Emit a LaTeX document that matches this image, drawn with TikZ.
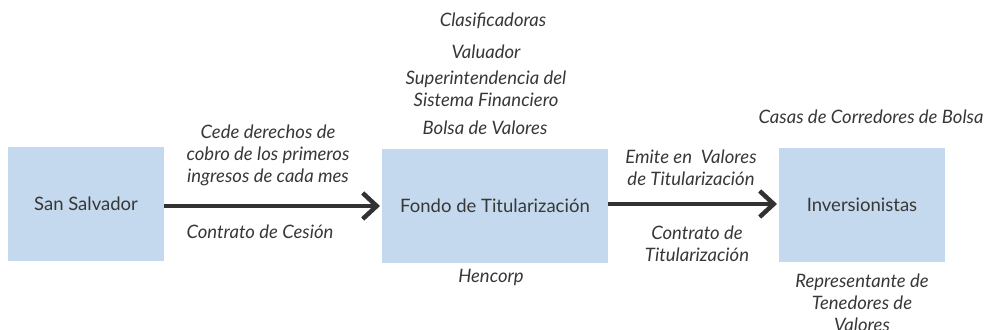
\documentclass[tikz,border=0pt]{standalone}
\usepackage{fontspec}
\setmainfont{Lato}
\usetikzlibrary{arrows.meta}
\definecolor{boxblue}{RGB}{196,217,237}
\definecolor{txt}{RGB}{55,55,55}
\definecolor{arr}{RGB}{50,50,50}
\tikzset{
  box/.style={fill=boxblue, draw=none, inner sep=0pt, text=txt, font=\fontsize{18.5}{22}\selectfont},
  lbl/.style={text=txt, inner sep=0pt, align=center, font=\fontsize{18.5}{22}\selectfont\itshape},
  flow/.style={draw=arr, line width=4.5pt, -{Straight Barb[length=14pt,width=26pt,line width=4.5pt]}, shorten >=2pt}
}
\begin{document}
\begin{tikzpicture}[x=1pt,y=-1pt]
\useasboundingbox (0,0) rectangle (984,329);
\fill[boxblue] (8,147) rectangle (164,261);
\node[box, fill=none] (ss) at (86,204) {San Salvador};
\coordinate (ssE) at (164,206);
\fill[boxblue] (382,149) rectangle (608,263);
\node[box, fill=none] (ft) at (495,206) {Fondo de Titularización};
\coordinate (ftW) at (382,206);
\coordinate (ftE) at (608,204);
\fill[boxblue] (779,148) rectangle (945,262);
\node[box, fill=none] (inv) at (862,205) {Inversionistas};
\coordinate (invW) at (779,204);

\draw[flow] (ssE) -- (ftW);
\draw[flow] (ftE) -- (invW);

\node[lbl] (cede) at (268,155.5) {Cede derechos de\\cobro de los primeros\\ingresos de cada mes};
\node[lbl] (ces) at (260,232) {Contrato de Cesión};
\node[lbl] (clas) at (493,21) {Clasificadoras};
\node[lbl] (val) at (486,52) {Valuador};
\node[lbl] (sup) at (486,89) {Superintendencia del\\Sistema Financiero};
\node[lbl] (bol) at (485,128) {Bolsa de Valores};
\node[lbl] (hen) at (491,277) {Hencorp};
\node[lbl] (emi) at (691,167.5) {Emite en~ Valores\\de Titularización};
\node[lbl] (ctit) at (697,243.5) {Contrato de\\Titularización};
\node[lbl] (casas) at (871,117) {Casas de Corredores de Bolsa};
\node[lbl] (rep) at (862,303) {Representante de\\Tenedores de\\Valores};
\end{tikzpicture}
\end{document}
